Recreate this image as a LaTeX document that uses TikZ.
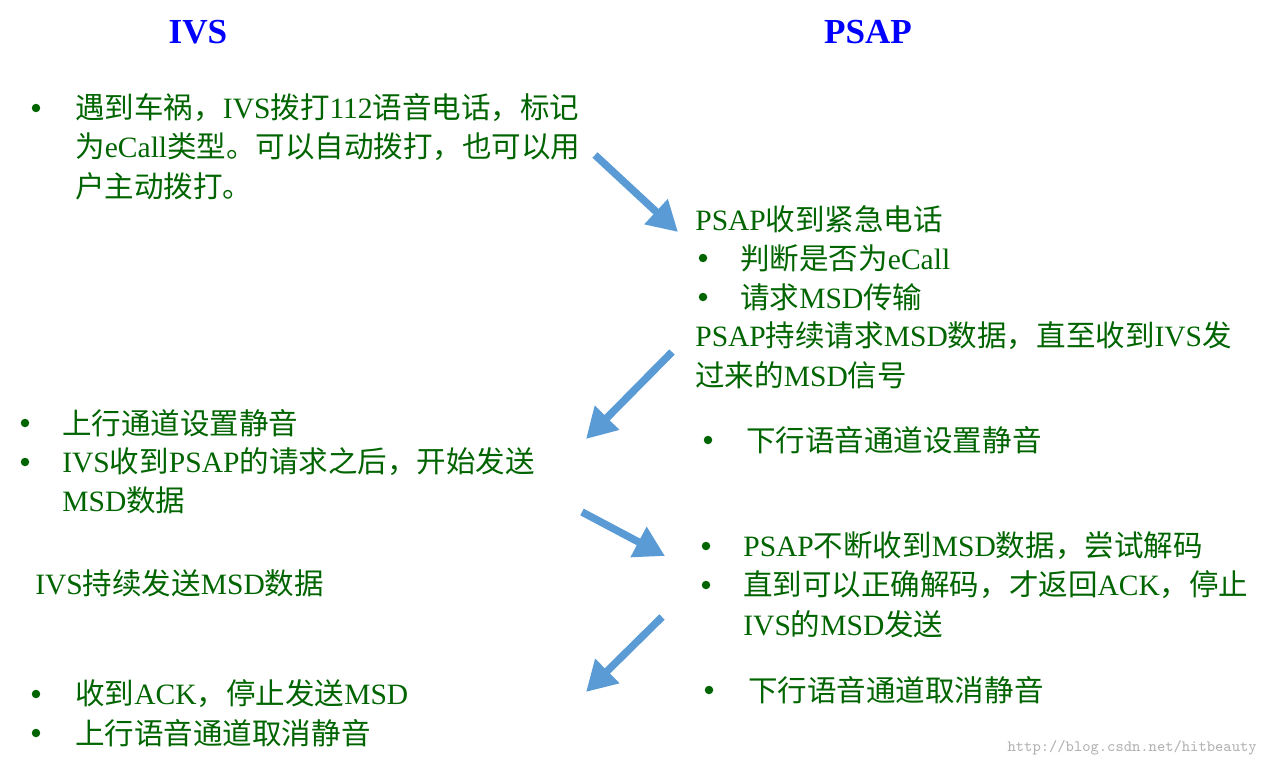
\documentclass[tikz,border=0pt]{standalone}
\usepackage{fontspec}
\setmainfont{Liberation Serif}
\newfontfamily\cjk{Noto Sans CJK SC}
\usetikzlibrary{arrows.meta}
% switch to the CJK font for CJK characters
\XeTeXinterchartokenstate=1
\newXeTeXintercharclass\cjkclass
\makeatletter
\@tempcnta="3000
\loop\ifnum\@tempcnta<"A000 \XeTeXcharclass\@tempcnta=\cjkclass \advance\@tempcnta by 1 \repeat
\@tempcnta="FF00
\loop\ifnum\@tempcnta<"FFF0 \XeTeXcharclass\@tempcnta=\cjkclass \advance\@tempcnta by 1 \repeat
\makeatother
\XeTeXinterchartoks 0 \cjkclass = {\begingroup\cjk}
\XeTeXinterchartoks 4095 \cjkclass = {\begingroup\cjk}
\XeTeXinterchartoks \cjkclass 0 = {\endgroup}
\XeTeXinterchartoks \cjkclass 4095 = {\endgroup}
\definecolor{txtgreen}{RGB}{0,100,0}
\definecolor{arrblue}{RGB}{91,155,213}
\tikzset{%
    txt/.style={anchor=west, inner sep=0pt, text=txtgreen, font=\fontsize{16.8pt}{19pt}\selectfont},
    dot/.style={circle, fill=txtgreen, inner sep=0pt, minimum size=0.17cm},
    head/.style={text=blue, font=\fontsize{20pt}{22pt}\selectfont\bfseries},
    flow/.style={line width=0.15cm, draw=arrblue, -{Triangle[length=0.6cm,width=0.65cm]}},
}
\begin{document}
\begin{tikzpicture}[x=0.02cm, y=-0.02cm]
    \useasboundingbox (0,0) rectangle (1268,767);
    \node [head] (ivs) at (198,32) {IVS};
    \node [head] (psap) at (868,32) {PSAP};
    % IVS calls
    \node [dot] (b1) at (36,108) {};
    \node [txt] (t1a) at (75,108) {遇到车祸，IVS拨打112语音电话，标记};
    \node [txt] (t1b) at (75,147) {为eCall类型。可以自动拨打，也可以用};
    \node [txt] (t1c) at (75,186) {户主动拨打。};
    % PSAP receives
    \node [txt] (t2a) at (695,219) {PSAP收到紧急电话};
    \node [dot] (b2a) at (703,258) {};
    \node [txt] (t2b) at (740,258) {判断是否为eCall};
    \node [dot] (b2b) at (703,297) {};
    \node [txt] (t2c) at (740,297) {请求MSD传输};
    \node [txt] (t2d) at (695,336) {PSAP持续请求MSD数据，直至收到IVS发};
    \node [txt] (t2e) at (695,375) {过来的MSD信号};
    % IVS mutes
    \node [dot] (b3a) at (25,423) {};
    \node [txt] (t3a) at (62,423) {上行通道设置静音};
    \node [dot] (b3b) at (25,462) {};
    \node [txt] (t3b) at (62,462) {IVS收到PSAP的请求之后，开始发送};
    \node [txt] (t3c) at (62,500) {MSD数据};
    \node [dot] (b4) at (708,440) {};
    \node [txt] (t4) at (746,440) {下行语音通道设置静音};
    % decoding
    \node [txt] (t5) at (35,583) {IVS持续发送MSD数据};
    \node [dot] (b6a) at (706,546) {};
    \node [txt] (t6a) at (743,546) {PSAP不断收到MSD数据，尝试解码};
    \node [dot] (b6b) at (706,585) {};
    \node [txt] (t6b) at (743,585) {直到可以正确解码，才返回ACK，停止};
    \node [txt] (t6c) at (743,624) {IVS的MSD发送};
    % end
    \node [dot] (b7) at (709,690) {};
    \node [txt] (t7) at (748,690) {下行语音通道取消静音};
    \node [dot] (b8a) at (36,694) {};
    \node [txt] (t8a) at (75,694) {收到ACK，停止发送MSD};
    \node [dot] (b8b) at (36,733) {};
    \node [txt] (t8b) at (75,733) {上行语音通道取消静音};
    \node [anchor=east, inner sep=0pt, text=black!30, font=\ttfamily\fontsize{9pt}{10pt}\selectfont] (mark) at (1257,748) {http://blog.csdn.net/hitbeauty};
    % arrows
    \coordinate (a1s) at (595,155); \coordinate (a1e) at (678,232);
    \coordinate (a2s) at (672,352); \coordinate (a2e) at (586,439);
    \coordinate (a3s) at (582,512); \coordinate (a3e) at (665,556);
    \coordinate (a4s) at (662,617); \coordinate (a4e) at (586,692);
    \draw [flow] (a1s) -- (a1e);
    \draw [flow] (a2s) -- (a2e);
    \draw [flow] (a3s) -- (a3e);
    \draw [flow] (a4s) -- (a4e);
\end{tikzpicture}
\end{document}
